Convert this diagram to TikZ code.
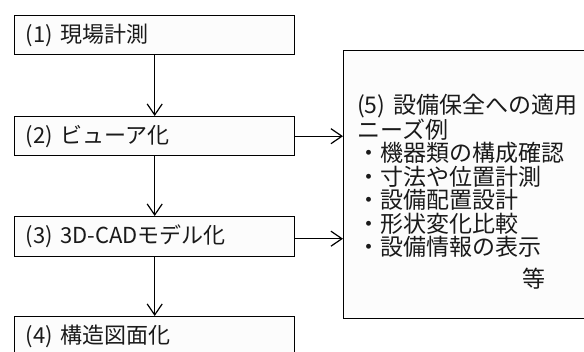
\documentclass[tikz,border=0pt]{standalone}
\usepackage{fontspec}
\setmainfont{Noto Sans CJK JP}
\usetikzlibrary{arrows.meta}
\definecolor{boxfill}{HTML}{FCFCFC}
\definecolor{ink}{HTML}{1A1A1A}
\begin{document}
\begin{tikzpicture}[x=1pt,y=-1pt,
  box/.style={draw=black, line width=1.4pt, fill=boxfill, text=ink,
    text width=258pt, inner xsep=11pt, inner ysep=0pt, align=left,
    anchor=north west, font=\fontsize{22}{23.5}\selectfont},
  arr/.style={-{Straight Barb[length=11pt,width=15pt]}, line width=1.2pt}]
\useasboundingbox (0,0) rectangle (584,351);
\clip (0,0) rectangle (584,351);
\fill[white] (0,0) rectangle (584,351);
\node[box, minimum height=39pt] (b1) at (14,15) {(1) 現場計測};
\node[box, minimum height=39pt] (b2) at (14,116) {(2) ビューア化};
\node[box, minimum height=40pt] (b3) at (14,216) {(3) 3D-CADモデル化};
\node[box, minimum height=39pt] (b4) at (14,316) {(4) 構造図面化};
\node[draw=black, line width=1.4pt, fill=boxfill, anchor=north west,
  minimum width=260pt, minimum height=268pt] (b5) at (343,50) {};
\node[anchor=base west, inner sep=0pt, text=ink, text width=222pt, align=left,
  font=\fontsize{23}{23.5}\selectfont] (t5) at (357,113)
  {(5) 設備保全への適用\\ニーズ例\\・機器類の構成確認\\・寸法や位置計測\\・設備配置設計\\・形状変化比較\\・設備情報の表示\\[8pt]\hspace*{165pt}等};
\draw[arr] (b1.south) -- (b2.north);
\draw[arr] (b2.south) -- (b3.north);
\draw[arr] (b3.south) -- (b4.north);
\draw[arr] (b2.east) -- (b2.east -| b5.west);
\draw[arr] ([yshift=-2pt]b3.east) -- ([yshift=-2pt]b3.east -| b5.west);
\end{tikzpicture}
\end{document}
